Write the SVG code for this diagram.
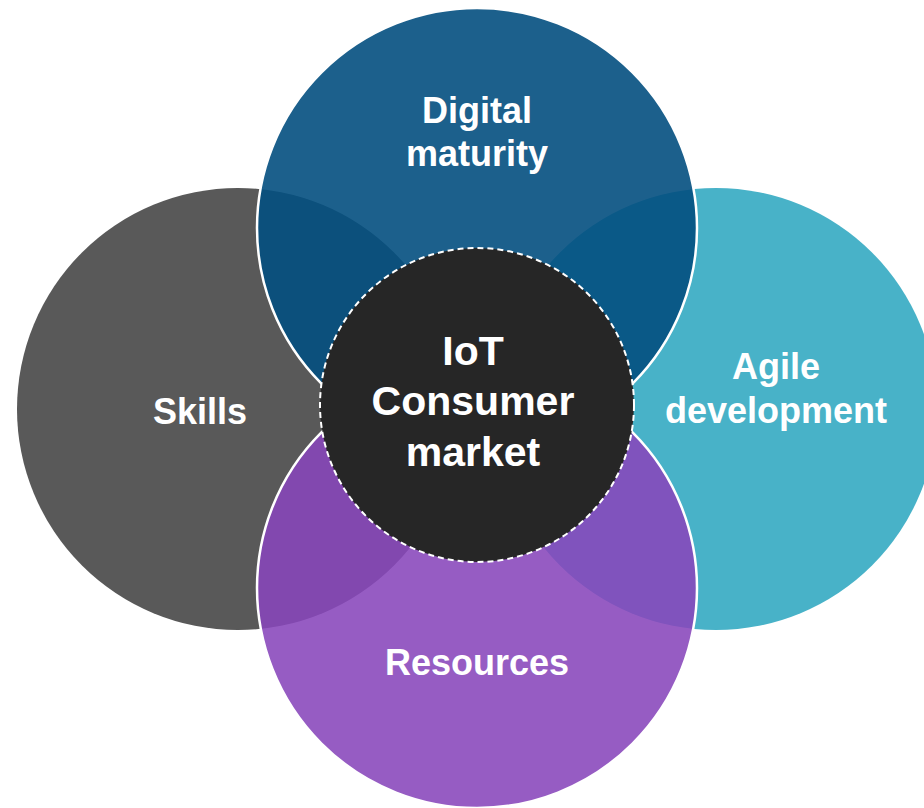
<svg xmlns="http://www.w3.org/2000/svg" width="924" height="808" viewBox="0 0 924 808">
<style>
.lbl{font-family:"Liberation Sans",Arial,sans-serif;font-weight:bold;fill:#ffffff;text-anchor:middle;font-size:36px}
.big{font-size:41px}
.ring{stroke:#ffffff;stroke-width:2.5}
</style>
<rect width="924" height="808" fill="#ffffff"/>
<g id="node-skills">
<circle cx="238" cy="409" r="221" fill="#595959"/>
</g>
<g id="node-agile">
<circle cx="716" cy="409" r="221" fill="#48b2c8"/>
</g>
<g id="node-digital">
<circle class="ring" cx="477" cy="228" r="220" fill="#034f80" fill-opacity="0.9"/>
</g>
<g id="node-resources">
<circle class="ring" cx="477" cy="588" r="220" fill="#8746bb" fill-opacity="0.88"/>
</g>
<g id="labels-outer">
<text class="lbl" x="477" y="123">Digital</text>
<text class="lbl" x="477" y="166">maturity</text>
<text class="lbl" x="200" y="424">Skills</text>
<text class="lbl" x="776" y="379">Agile</text>
<text class="lbl" x="776" y="423">development</text>
<text class="lbl" x="477" y="675">Resources</text>
</g>
<g id="node-center">
<circle cx="477" cy="405" r="157" fill="#262626" stroke="#ffffff" stroke-width="2" stroke-dasharray="6 4"/>
<text class="lbl big" x="473" y="365">IoT</text>
<text class="lbl big" x="473" y="415">Consumer</text>
<text class="lbl big" x="473" y="466">market</text>
</g>
<g id="connectors"></g>
</svg>
